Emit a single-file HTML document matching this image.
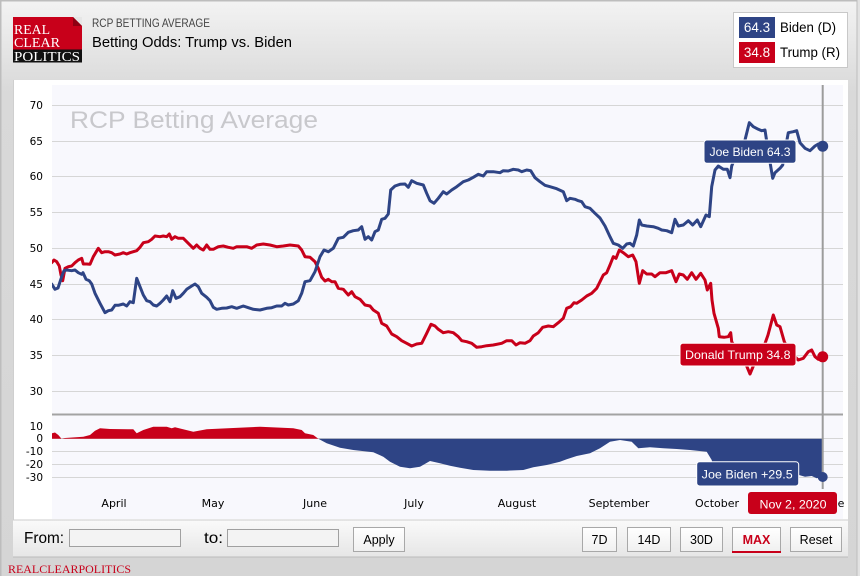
<!DOCTYPE html>
<html><head><meta charset="utf-8"><style>
html,body{margin:0;padding:0;width:860px;height:576px;overflow:hidden;background:#d6d6d6}
svg{display:block}
</style></head><body>
<svg width="860" height="576" viewBox="0 0 860 576" xmlns="http://www.w3.org/2000/svg">
<defs>
<linearGradient id="hg" x1="0" y1="0" x2="0" y2="1">
<stop offset="0" stop-color="#f3f3f3"/><stop offset="0.16" stop-color="#d9d9d9"/><stop offset="1" stop-color="#d5d5d5"/>
</linearGradient>
<linearGradient id="cb" x1="0" y1="0" x2="0" y2="1">
<stop offset="0" stop-color="#fafafa"/><stop offset="1" stop-color="#e6e6e6"/>
</linearGradient>
<linearGradient id="bt" x1="0" y1="0" x2="0" y2="1">
<stop offset="0" stop-color="#ffffff"/><stop offset="1" stop-color="#f0f0f0"/>
</linearGradient>
<clipPath id="plot"><rect x="52" y="85" width="791" height="434"/></clipPath>
</defs>
<!-- page background -->
<rect x="0" y="0" width="860" height="576" fill="url(#hg)"/>
<rect x="0" y="0" width="860" height="1.5" fill="#bdbdbd"/>
<rect x="0" y="0" width="1.5" height="576" fill="#bdbdbd"/>
<rect x="856.5" y="0" width="1" height="576" fill="#bdbdbd"/>
<rect x="857.5" y="0" width="2.5" height="576" fill="#e2e2e2"/>

<!-- logo -->
<rect x="13" y="17" width="69" height="33" fill="#c8001a"/>
<polygon points="73,17 82,17 82,26" fill="#e6e6e6"/>
<polygon points="73,17 82,26 73,26" fill="#8e0012"/>
<rect x="13" y="49.5" width="69" height="13" fill="#111"/>
<text x="14" y="34" font-family="Liberation Serif, serif" font-size="13.5" fill="#fff" textLength="36" lengthAdjust="spacingAndGlyphs">REAL</text>
<text x="14" y="47" font-family="Liberation Serif, serif" font-size="13.5" fill="#fff" textLength="46" lengthAdjust="spacingAndGlyphs">CLEAR</text>
<text x="14" y="61" font-family="Liberation Serif, serif" font-size="13.5" fill="#fff" textLength="66" lengthAdjust="spacingAndGlyphs">POLITICS</text>

<!-- titles -->
<text x="92" y="27" font-family="Liberation Sans, Arial, sans-serif" font-size="11.5" fill="#444" textLength="118" lengthAdjust="spacingAndGlyphs">RCP BETTING AVERAGE</text>
<text x="92" y="47" font-family="Liberation Sans, Arial, sans-serif" font-size="15" fill="#000" textLength="200" lengthAdjust="spacingAndGlyphs">Betting Odds: Trump vs. Biden</text>

<!-- legend -->
<rect x="733.5" y="12.5" width="114" height="55" fill="#fff" stroke="#c8c8c8"/>
<rect x="739" y="17" width="36" height="21" fill="#2e4485"/>
<text x="757" y="32" text-anchor="middle" font-family="Liberation Sans, Arial, sans-serif" font-size="13.5" fill="#fff">64.3</text>
<text x="780" y="32" font-family="Liberation Sans, Arial, sans-serif" font-size="14" fill="#000" textLength="56" lengthAdjust="spacingAndGlyphs">Biden (D)</text>
<rect x="739" y="42" width="36" height="21" fill="#c8001a"/>
<text x="757" y="57" text-anchor="middle" font-family="Liberation Sans, Arial, sans-serif" font-size="13.5" fill="#fff">34.8</text>
<text x="780" y="57" font-family="Liberation Sans, Arial, sans-serif" font-size="14" fill="#000" textLength="60" lengthAdjust="spacingAndGlyphs">Trump (R)</text>

<!-- panel -->
<rect x="13" y="80" width="835" height="477" fill="#fff"/>
<rect x="13" y="80" width="1" height="477" fill="#cfcfcf"/>
<rect x="52" y="85" width="791" height="434" fill="#f8f8fd"/>

<!-- main gridlines -->
<g stroke="#d6d6d6" stroke-width="1">
<line x1="52" y1="105.5" x2="843" y2="105.5"/>
<line x1="52" y1="141.5" x2="843" y2="141.5"/>
<line x1="52" y1="176.5" x2="843" y2="176.5"/>
<line x1="52" y1="212.5" x2="843" y2="212.5"/>
<line x1="52" y1="248.5" x2="843" y2="248.5"/>
<line x1="52" y1="284.5" x2="843" y2="284.5"/>
<line x1="52" y1="319.5" x2="843" y2="319.5"/>
<line x1="52" y1="355.5" x2="843" y2="355.5"/>
<line x1="52" y1="391.5" x2="843" y2="391.5"/>
<line x1="52" y1="438.5" x2="843" y2="438.5"/>
<line x1="52" y1="451.5" x2="843" y2="451.5"/>
<line x1="52" y1="464.5" x2="843" y2="464.5"/>
<line x1="52" y1="477.5" x2="843" y2="477.5"/>
</g>
<line x1="52" y1="414.5" x2="843" y2="414.5" stroke="#a3a3a3" stroke-width="2"/>

<!-- y labels -->
<g font-family="DejaVu Sans, Verdana, sans-serif" font-size="10.5" fill="#000" text-anchor="end">
<text x="43" y="109">70</text>
<text x="43" y="145">65</text>
<text x="43" y="180">60</text>
<text x="43" y="216">55</text>
<text x="43" y="252">50</text>
<text x="43" y="288">45</text>
<text x="43" y="323">40</text>
<text x="43" y="359">35</text>
<text x="43" y="395">30</text>
<text x="43" y="430">10</text>
<text x="43" y="442">0</text>
<text x="43" y="455">-10</text>
<text x="43" y="468">-20</text>
<text x="43" y="481">-30</text>
</g>

<!-- watermark -->
<text x="70" y="128" font-family="Liberation Sans, Arial, sans-serif" font-size="24" fill="#c8c8cc" textLength="248" lengthAdjust="spacingAndGlyphs">RCP Betting Average</text>

<!-- month labels -->
<g font-family="DejaVu Sans, Verdana, sans-serif" font-size="11" fill="#000" text-anchor="middle">
<text x="114" y="507">April</text>
<text x="213" y="507">May</text>
<text x="315" y="507">June</text>
<text x="414" y="507">July</text>
<text x="517" y="507">August</text>
<text x="619" y="507">September</text>
<text x="717" y="507">October</text>
<text x="841" y="507">e</text>
</g>

<!-- spread areas -->
<g clip-path="url(#plot)">
<polygon fill="#c8001a" points="51.7,438.7 51.7,433.3 55,432.5 58.3,435 61.5,438.7 65,438 83.3,436.7 90,435 95,430.7 100,428.3 110,429 133.3,429.3 136.7,433.3 143.3,430 153.3,426.7 166.7,426.7 171.7,428.3 175,427.3 193.3,431.7 206.7,429.3 233.3,428 260,426.7 293.3,428.3 301.7,430 305,433.3 313.3,435 318.3,438.7"/>
<polygon fill="#2e4485" points="318.3,438.7 326.7,443.3 340,447.7 353.3,450 373.3,452.3 383.3,456.7 390,461.7 400,466.7 410,468.3 420,466.7 430,461 440,463.3 450,465.7 460,467.7 473.3,470 490,470.7 506.7,470.7 523.3,470 533.3,467.3 546.7,465 560,461.7 566.7,459.3 576.7,456 590,453.3 600,448.3 610,441.7 620,440 631.7,441.7 638.3,448.3 650,447.3 663.3,448.3 676.7,449 690,450 706.7,451.7 711.7,460 714,470 720,475 740,476 760,478 780,476 799,475 805,476.7 811.7,476 816.7,478.3 822.7,476.7 822.7,438.7"/>
</g>

<!-- crosshair -->
<line x1="822.7" y1="85" x2="822.7" y2="489" stroke="#9c9c9c" stroke-width="2"/>

<!-- series -->
<g fill="none" stroke-width="3" stroke-linejoin="round" stroke-linecap="round" clip-path="url(#plot)">
<polyline stroke="#c8001a" points="51.7,262.7 54,260 56.7,261.7 59.3,266 61,275 62.7,280.7 65,268.3 68.3,266.7 71.7,266 75,262.7 78.3,260 81.7,258.3 83.3,264 86.7,264 90,264.3 93.3,256.7 98.3,248.3 101.7,252.7 105,251.7 108.3,251.7 111.7,252.7 115,255 120,254 123.3,252.7 126.7,254 130,252.7 133.3,251.7 136.7,250.7 140,247.3 143.3,242.7 148.3,241.7 151.7,239.3 155,236 160,236.7 163.3,236 166.7,236.7 169.3,234 171.7,239.3 175,236.7 178.3,238.3 183.3,238.3 188.3,243.3 193.3,248.3 196.7,245 200,248.3 203.3,250 206.7,245 210,249.3 213.3,249.3 218.3,246.7 223.3,246 228.3,247.3 233.3,248.3 236.7,246.7 241.7,246.7 246.7,246.7 251.7,248.3 256.7,245 263.3,244 270,245 276.7,246.7 283.3,246 290,245 298.3,246 301.7,250 305,256.7 310,257.3 315,261.7 318.3,268.3 321.7,277.3 325,281 328.3,279.3 331.7,281.7 335,281.7 338.3,288.3 343.3,289.3 348.3,295 351.7,291.7 355,296.7 360,299.3 365,305 370,306 373.3,310 378.3,313.3 381.7,323.3 386.7,326 391.7,334 396.7,336.7 401.7,340.7 406.7,343.3 411.7,346 416.7,344 421.7,343.3 426.7,333.3 431,324.3 435,326 438.3,329.3 443.3,332.7 448.3,331.7 453.3,332.7 458.3,336.7 461.7,340.7 466.7,341.7 471.7,343.3 476.7,347.3 481.7,346.7 486.7,345.7 493.3,345 501.7,343.3 506.7,340.7 511.7,340.7 516,345 520,342.7 525,343.3 530,340.7 533.3,336 538.3,332.7 542.7,327.3 548.3,326 553.3,326.7 558.3,322.7 563.3,318.3 566.7,308.3 570.7,306.7 574,302.7 576.7,303.3 581.7,300 586.7,296 591.7,293.3 596.7,288.3 600,281.7 603.3,275 606.7,272.7 610,265 613.3,256.7 616,258.3 619.3,250 623.3,252.7 628.3,256.7 632.7,255 636,261.7 639.3,283.3 642.7,270.7 646.7,274 651.7,274 655,276.7 660,272.7 666,272.7 671.7,270.7 676,281.7 679.3,274 683.3,275 687.3,279.3 691.7,272.7 696,279.3 700.7,273.3 705,280 707.3,290 710.7,283.3 712,300 714,313.3 718.3,328.3 719.3,336.7 724,337.3 728.3,336.7 730.7,332.7 731.7,341.7 738,352 745,362 750,374 755,362 762,352 768,335 773.3,315 776.7,325 780,326.7 784.3,341.7 790,352 798.3,360 803.3,358.3 808.3,351.7 811.7,350 815,356.7 818.3,359.3 822.7,356.8"/>
<polyline stroke="#2e4485" points="51.7,284 55,289.3 58,288 61.7,276.7 64,270.7 66.7,270 71.7,270.7 75,270 78.3,272.7 81.7,274.3 83,272.7 86,279.3 89.3,280.7 91.7,284 95,293.3 100,303.3 105,312.7 108.3,310.7 111.7,310 115,305.3 118.3,305.3 123.3,304 126.7,306 130,301.7 133.3,302.7 136.7,278.3 140,286.7 143.3,295 146.7,300.7 150,301.7 153.3,305 156.7,306 160,303.3 163.3,300 166.7,296 170,301.7 172.7,290.7 176,298.3 180,296.7 183.3,293.3 186.7,289.3 191.7,286 195,284 198.3,286.7 201.7,293.3 206.7,297.3 210,300.7 213.3,307.3 216.7,309.3 221.7,308.3 226.7,308 231.7,306.7 236.7,308.3 243.3,306 248.3,307.7 253.3,309.3 260,310 266.7,308.3 271.7,307.7 276.7,306 281.7,306 285,303.3 288.3,305 293.3,304 298.3,300.7 301.7,293.3 305,281.7 310,280.7 315,271.7 320,256.7 324,250 328.3,251.7 333.3,248.3 338.3,238.3 343.3,237.3 348.3,232.3 353.3,230.7 358.3,230 361.7,226.7 365,239.3 368.3,236.7 371.7,240 375,231.7 378.3,230 381.7,219.3 385,218.3 388.3,214 390.7,190 395,186 400,184.3 405,184 408.3,187.3 411.7,180.7 416.7,183.3 423.3,185 426.7,193.3 430,200.7 434,203.3 438.3,198.3 443.3,191.7 446.7,194 451.7,190 456.7,186.7 463.3,181.7 468.3,180 473.3,177.3 478.3,174.3 483.3,176 486.7,171.7 493.3,171.7 500,172.7 503.3,170.7 508.3,171 513.3,169.3 518.3,170 521.7,171.7 526.7,170 530.7,170.7 535,177.7 540,181.7 545,185.3 550,186.7 556.7,188.7 563.3,191.7 566.7,200.7 570,198.3 575,199.3 578.3,200.7 581.7,201.7 585,206.7 590,208.3 595,213.3 600,218 605,226 610,236.7 613.3,243.3 618.3,245 622.7,248.3 626.7,244 630,243.3 633.3,246 636.7,235 639.3,220 641.7,225 646.7,226 653.3,226.7 658.3,228.3 661.7,230 666.7,230.7 671.7,232.7 675,219.3 678.3,226 683.3,225 688.3,220.7 692.7,225 697.3,220 700.7,226.7 706,215 709.3,216.7 711.7,186.7 715,170 718.3,166 723.3,169.3 727.3,169.3 730,177.7 731.7,166 735,158 740,150 745,140 749.3,122.7 753.3,126.7 758.3,129.3 761.7,130.7 765,130 768,150 772.7,178.3 775,172.7 780,168.3 782.7,165 786,145 788.3,132.7 793.3,131.7 796.7,130.7 800,142.7 805,148.3 810,150.7 815,146 818.3,144 822.7,146.2"/>
</g>

<!-- markers -->
<circle cx="822.7" cy="146.2" r="5.5" fill="#2e4485"/>
<circle cx="822.7" cy="356.8" r="5.5" fill="#c8001a"/>
<circle cx="822.7" cy="477" r="5" fill="#2e4485"/>

<!-- data labels -->
<g font-family="Liberation Sans, Arial, sans-serif" font-size="12" fill="#fff">
<rect x="704" y="140" width="92" height="23.3" rx="3" fill="#2e4485" stroke="#fff" stroke-width="1"/>
<text x="709.5" y="156" textLength="81" lengthAdjust="spacingAndGlyphs">Joe Biden 64.3</text>
<rect x="680" y="343.3" width="116" height="22.7" rx="3" fill="#c8001a" stroke="#fff" stroke-width="1"/>
<text x="685" y="359" textLength="105.5" lengthAdjust="spacingAndGlyphs">Donald Trump 34.8</text>
<rect x="696.7" y="461.7" width="102" height="24.3" rx="3" fill="#2e4485" stroke="#fff" stroke-width="1"/>
<text x="701.7" y="478.5" textLength="91" lengthAdjust="spacingAndGlyphs">Joe Biden +29.5</text>
<rect x="748" y="492" width="89" height="22" rx="3" fill="#c8001a"/>
<text x="759.5" y="508.5" textLength="67" lengthAdjust="spacingAndGlyphs">Nov 2, 2020</text>
</g>

<!-- control bar -->
<rect x="13" y="520" width="835" height="37" fill="url(#cb)"/>
<rect x="13" y="519.5" width="835" height="1" fill="#cdcdcd"/>
<rect x="13" y="556.5" width="835" height="1" fill="#bcbcbc"/>
<g font-family="Liberation Sans, Arial, sans-serif" fill="#000">
<text x="24" y="543" font-size="15.5" textLength="40" lengthAdjust="spacingAndGlyphs">From:</text>
<rect x="69.5" y="529.5" width="111" height="17" fill="#f3f3f3" stroke="#a0a0a0"/>
<text x="204" y="543" font-size="15.5" textLength="19" lengthAdjust="spacingAndGlyphs">to:</text>
<rect x="227.5" y="529.5" width="111" height="17" fill="#f3f3f3" stroke="#a0a0a0"/>
<rect x="353.5" y="527.5" width="51" height="24" fill="url(#bt)" stroke="#a8a8a8"/>
<text x="379" y="544" font-size="12.5" text-anchor="middle">Apply</text>
<rect x="582.5" y="527.5" width="34" height="24" fill="url(#bt)" stroke="#a8a8a8"/>
<text x="599.5" y="544" font-size="12.5" text-anchor="middle">7D</text>
<rect x="627.5" y="527.5" width="43" height="24" fill="url(#bt)" stroke="#a8a8a8"/>
<text x="649" y="544" font-size="12.5" text-anchor="middle">14D</text>
<rect x="680.5" y="527.5" width="42" height="24" fill="url(#bt)" stroke="#a8a8a8"/>
<text x="701.5" y="544" font-size="12.5" text-anchor="middle">30D</text>
<rect x="732.5" y="527.5" width="48" height="24" fill="url(#bt)" stroke="#a8a8a8"/>
<rect x="732" y="551" width="49" height="2" fill="#c8001a"/>
<text x="756.5" y="544" font-size="12.5" font-weight="bold" fill="#c8001a" text-anchor="middle">MAX</text>
<rect x="790.5" y="527.5" width="51" height="24" fill="url(#bt)" stroke="#a8a8a8"/>
<text x="816" y="544" font-size="12.5" text-anchor="middle">Reset</text>
</g>

<!-- footer -->
<text x="8" y="573" font-family="Liberation Serif, serif" font-size="12" fill="#c8001a" textLength="123" lengthAdjust="spacingAndGlyphs">REALCLEARPOLITICS</text>
</svg>
</body></html>
